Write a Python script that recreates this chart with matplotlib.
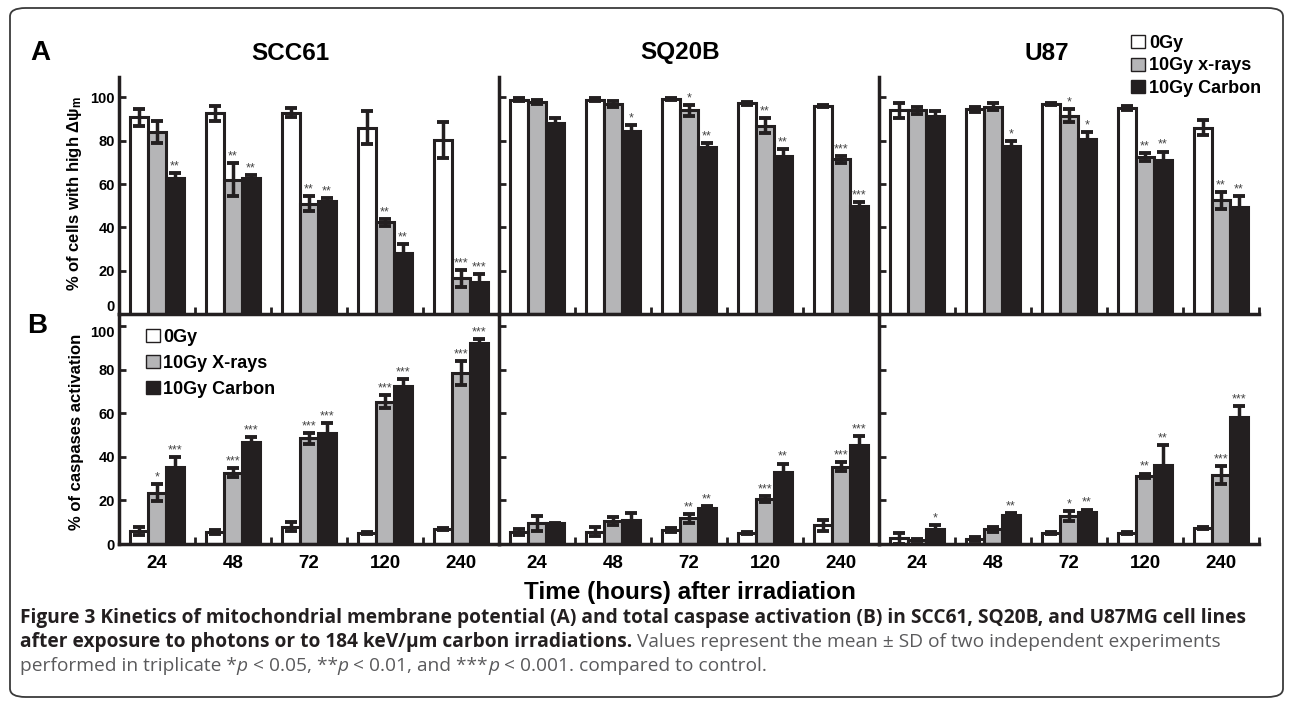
import matplotlib
matplotlib.use("Agg")
import matplotlib.pyplot as plt
from matplotlib.patches import Patch, FancyBboxPatch
from matplotlib import font_manager
import numpy as np

plt.rcParams['font.family'] = ['Liberation Sans', 'DejaVu Sans']
plt.rcParams['font.weight'] = 'bold'
plt.rcParams['axes.labelweight'] = 'bold'
plt.rcParams['mathtext.fontset'] = 'custom'
plt.rcParams['mathtext.rm'] = 'Liberation Sans:bold'
plt.rcParams['mathtext.it'] = 'Liberation Sans:bold'

times = ["24", "48", "72", "120", "240"]
cell_lines = ["SCC61", "SQ20B", "U87"]
labels_a = ["0Gy", "10Gy x-rays", "10Gy Carbon"]
labels_b = ["0Gy", "10Gy X-rays", "10Gy Carbon"]

# panel A - % of cells with high mitochondrial potential
mmp_ctrl = {"SCC61": [90.8, 92.6, 92.9, 86.0, 80.3],
            "SQ20B": [99.0, 99.0, 99.3, 97.2, 96.0],
            "U87": [94.0, 94.4, 97.0, 95.0, 86.0]}
mmp_ctrl_sd = {"SCC61": [4, 3.5, 2, 7.5, 8.5],
               "SQ20B": [0.5, 0.5, 0.5, 0.7, 0.5],
               "U87": [3.5, 1, 0.5, 1, 3.5]}
mmp_xray = {"SCC61": [84.0, 62.0, 51.0, 42.3, 16.5],
            "SQ20B": [98.0, 97.0, 94.0, 87.0, 71.4],
            "U87": [94.0, 95.7, 91.4, 72.5, 52.5]}
mmp_xray_sd = {"SCC61": [5, 7.5, 3.5, 1.5, 4],
               "SQ20B": [1, 1.5, 2.5, 3.5, 1.5],
               "U87": [1.5, 1.5, 3, 2, 4]}
mmp_carbon = {"SCC61": [63.0, 62.6, 52.0, 28.0, 15.0],
              "SQ20B": [88.3, 84.6, 77.0, 73.0, 49.8],
              "U87": [91.5, 77.5, 80.8, 71.0, 49.5]}
mmp_carbon_sd = {"SCC61": [2, 1.5, 1.5, 4.5, 3.5],
                 "SQ20B": [2, 2.5, 2, 3, 2],
                 "U87": [2, 2.5, 3, 4, 5]}
mmp_xray_sig = {"SCC61": ["", "**", "**", "**", "***"],
                "SQ20B": ["", "", "*", "**", "***"],
                "U87": ["", "", "*", "**", "**"]}
mmp_carbon_sig = {"SCC61": ["**", "**", "**", "**", "***"],
                  "SQ20B": ["", "*", "**", "**", "***"],
                  "U87": ["", "*", "*", "**", "**"]}

# panel B - % caspase activation
casp_ctrl = {"SCC61": [6.0, 5.5, 8.0, 5.0, 6.7],
             "SQ20B": [5.6, 5.6, 6.4, 4.9, 8.5],
             "U87": [2.6, 2.2, 5.2, 4.9, 7.2]}
casp_ctrl_sd = {"SCC61": [2, 1, 2, 0.5, 0.5],
                "SQ20B": [1.5, 2, 1, 0.5, 2.5],
                "U87": [2.5, 1, 0.5, 0.5, 0.5]}
casp_xray = {"SCC61": [23.5, 32.7, 48.5, 65.3, 78.6],
             "SQ20B": [9.5, 10.5, 11.8, 20.6, 35.5],
             "U87": [1.8, 6.7, 13.0, 31.3, 31.6]}
casp_xray_sd = {"SCC61": [4, 2, 2.5, 3, 5.5],
                "SQ20B": [3.5, 1.8, 2, 1.5, 2],
                "U87": [0.3, 1, 2.3, 1, 4]}
casp_carbon = {"SCC61": [35.5, 47.0, 51.0, 72.5, 92.0],
               "SQ20B": [9.5, 11.0, 16.4, 32.9, 45.5],
               "U87": [6.9, 13.3, 14.8, 36.2, 58.4]}
casp_carbon_sd = {"SCC61": [4.5, 2, 4.5, 3, 2],
                  "SQ20B": [0.3, 3, 1, 4, 4],
                  "U87": [2, 0.7, 1, 9, 5]}
casp_xray_sig = {"SCC61": ["*", "***", "***", "***", "***"],
                 "SQ20B": ["", "", "**", "***", "***"],
                 "U87": ["", "", "*", "**", "***"]}
casp_carbon_sig = {"SCC61": ["***", "***", "***", "***", "***"],
                   "SQ20B": ["", "", "**", "**", "***"],
                   "U87": ["*", "**", "**", "**", "***"]}

W, H = 1293, 704
ink = '#231f20'
fills = ['white', '#b5b5b7', ink]

fig = plt.figure(figsize=(W / 100, H / 100), dpi=100)


def rect(x0, y_top, x1, y_bot):
    return [x0 / W, 1 - y_bot / H, (x1 - x0) / W, (y_bot - y_top) / H]


def draw_panel(ax, series, sds, sigs, ymax, show_x):
    x = np.arange(len(times))
    w = 0.235
    for k, (vals, err) in enumerate(zip(series, sds)):
        xs = x + (k - 1) * w
        ax.bar(xs, vals, w, color=fills[k], edgecolor=ink, linewidth=2.2, zorder=2)
        ax.errorbar(xs, vals, yerr=err, fmt='none', ecolor=ink, elinewidth=2.5,
                    capsize=4.5, capthick=2.8, zorder=3)
        if k > 0:
            for xi, v, e, s in zip(xs, vals, err, sigs[k - 1]):
                if s:
                    ax.text(xi, v + e + 0.3, s, ha='center', va='bottom',
                            fontsize=9, fontweight='normal', color='#444444', zorder=4)
    ax.set_xlim(-0.5, len(times) - 0.5)
    ax.set_ylim(0, ymax)
    ax.set_yticks(np.arange(0, 101, 20))
    for s in ['top', 'right']:
        ax.spines[s].set_visible(False)
    for s in ['left', 'bottom']:
        ax.spines[s].set_linewidth(2.5)
        ax.spines[s].set_color(ink)
    ax.tick_params(axis='y', direction='in', length=5, width=2, color=ink,
                   labelsize=10.5, pad=3)
    ax.set_xticks(x)
    ax.set_xticks(x + 0.5, minor=True)
    ax.tick_params(axis='x', which='major', length=0, labelsize=13.5, pad=8)
    ax.tick_params(axis='x', which='minor', direction='in', length=5, width=2, color=ink)
    if show_x:
        ax.set_xticklabels(times)
    else:
        ax.set_xticklabels([])
    ax.patch.set_alpha(0)


axes_a, axes_b = [], []
for j, cl in enumerate(cell_lines):
    x0 = 119 + 380 * j
    ax_a = fig.add_axes(rect(x0, 77, x0 + 380, 314))
    draw_panel(ax_a, [mmp_ctrl[cl], mmp_xray[cl], mmp_carbon[cl]],
               [mmp_ctrl_sd[cl], mmp_xray_sd[cl], mmp_carbon_sd[cl]],
               [mmp_xray_sig[cl], mmp_carbon_sig[cl]], 109.4, False)
    ax_b = fig.add_axes(rect(x0, 314, x0 + 380, 544))
    draw_panel(ax_b, [casp_ctrl[cl], casp_xray[cl], casp_carbon[cl]],
               [casp_ctrl_sd[cl], casp_xray_sd[cl], casp_carbon_sd[cl]],
               [casp_xray_sig[cl], casp_carbon_sig[cl]], 105.5, True)
    if j > 0:
        ax_a.set_yticklabels([])
        ax_b.set_yticklabels([])
    axes_a.append(ax_a)
    axes_b.append(ax_b)

# keep the shared 0 / 100 labels apart where panels A and B meet
axes_a[0].get_yticklabels()[0].set_verticalalignment('bottom')
axes_b[0].get_yticklabels()[-1].set_verticalalignment('top')

# titles and panel letters
title_x = [290, 680, 1047]
for tx, cl in zip(title_x, cell_lines):
    fig.text(tx / W, 1 - 53 / H, cl, ha='center', va='center', fontsize=17.5)
fig.text(40 / W, 1 - 53 / H, "A", ha='center', va='center', fontsize=20)
fig.text(37 / W, 1 - 326 / H, "B", ha='center', va='center', fontsize=20)

fig.text(75 / W, 1 - 194 / H, r"% of cells with high $\Delta\psi_{\rm m}$",
         rotation=90, ha='center', va='center', fontsize=12)
fig.text(77 / W, 1 - 432 / H, "% of caspases activation",
         rotation=90, ha='center', va='center', fontsize=12)
fig.text(690 / W, 1 - 593 / H, "Time (hours) after irradiation",
         ha='center', va='center', fontsize=17.5)

# legends
h_a = [Patch(facecolor=c, edgecolor=ink, linewidth=1) for c in fills]
fig.legend(h_a, labels_a, loc='upper left', bbox_to_anchor=(1122 / W, 1 - 26 / H),
           frameon=False, fontsize=13, handlelength=0.75, handleheight=0.75,
           handletextpad=0.25, labelspacing=0.3, borderpad=0)
axes_b[0].legend(h_a, labels_b, loc='upper left', bbox_to_anchor=(137 / W, 1 - 320 / H),
                 bbox_transform=fig.transFigure, frameon=False, fontsize=13,
                 handlelength=0.75, handleheight=0.75, handletextpad=0.2,
                 labelspacing=0.5, borderpad=0)

# caption
avail = {f.name for f in font_manager.fontManager.ttflist}
cap_font = [f for f in ['Liberation Sans Narrow', 'Open Sans'] if f in avail] + ['DejaVu Sans']
dark = '#231f20'
grey = '#5a5a5c'
renderer = fig.canvas.get_renderer()

line1 = [("Figure 3 Kinetics of mitochondrial membrane potential (A) and total caspase "
          "activation (B) in SCC61, SQ20B, and U87MG cell lines", 'bold', 'normal', dark)]
line2 = [("after exposure to photons or to 184 keV/\u03bcm carbon irradiations.", 'bold', 'normal', dark),
         (" Values represent the mean \u00b1 SD of two independent experiments", 'normal', 'normal', grey)]
line3 = [("performed in triplicate *", 'normal', 'normal', grey),
         ("p", 'normal', 'italic', grey),
         (" < 0.05, **", 'normal', 'normal', grey),
         ("p", 'normal', 'italic', grey),
         (" < 0.01, and ***", 'normal', 'normal', grey),
         ("p", 'normal', 'italic', grey),
         (" < 0.001. compared to control.", 'normal', 'normal', grey)]

# fit caption size to the width of the first line
probe = fig.text(0, 0, line1[0][0], fontsize=12, fontweight='bold', family=cap_font)
pw = probe.get_window_extent(renderer).width
probe.remove()
cap_size = 12 * 1225 / pw


def put_line(pieces, x0, yc):
    x = x0
    space = 0.25 * cap_size * 100 / 72
    for txt, wt, st, col in pieces:
        if txt.startswith(" "):
            x += space
        t = fig.text(x / W, 1 - yc / H, txt.strip(), fontsize=cap_size, fontweight=wt,
                     fontstyle=st, color=col, family=cap_font, ha='left', va='center')
        x = t.get_window_extent(renderer).x1
        if txt.endswith(" "):
            x += space


put_line(line1, 20, 618)
put_line(line2, 20, 642)
put_line(line3, 20, 666)

border = FancyBboxPatch((10 / W, 1 - 697 / H), 1273 / W, 689 / H,
                        boxstyle="round,pad=0,rounding_size=0.012",
                        transform=fig.transFigure, fill=False, ec='#3a3a3a', lw=1.3)
fig.patches.append(border)

fig.savefig("out.png", dpi=100)
